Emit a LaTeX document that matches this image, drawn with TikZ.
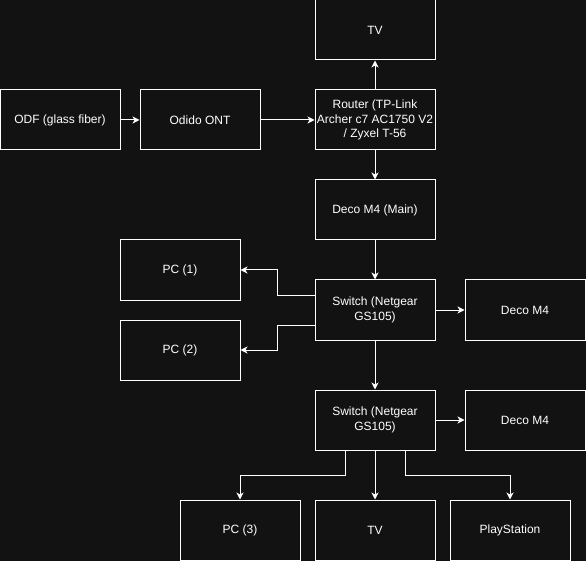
\documentclass[tikz,border=0pt]{standalone}
\usepackage{fontspec}
\usepackage{tikz}
\usepackage{xcolor}
\usetikzlibrary{arrows.meta}
\setmainfont{Liberation Sans}
\definecolor{bgdark}{HTML}{121212}
\tikzset{
    net-box/.style = {draw=white, fill=bgdark, text=white, line width=1pt, rectangle, minimum width=120pt, minimum height=60pt, align=center, inner sep=0pt, font=\fontsize{12}{14.4}\selectfont},
    net-link/.style = {draw=white, line width=1pt, -{Stealth[length=7pt, width=7pt, inset=2pt]}},
}

\begin{document}
\begin{tikzpicture}[x=1pt, y=-1pt]
\fill[bgdark] (0,0) rectangle (586,561);
\useasboundingbox (0,0) rectangle (586,561);
\node [net-box] (tvtop) at (375,30) {TV};
\node [net-box] (odf) at (60,120) {ODF (glass fiber)};
\node [net-box] (ont) at (200,120) {Odido ONT};
\node [net-box] (router) at (375,120) {Router (TP-Link\\Archer c7 AC1750 V2\\/ Zyxel T-56};
\node [net-box] (decomain) at (375,210) {Deco M4 (Main)};
\node [net-box] (pcone) at (180,270) {PC (1)};
\node [net-box] (switchone) at (375,310) {Switch (Netgear\\GS105)};
\node [net-box] (decoone) at (525,310) {Deco M4};
\node [net-box] (pctwo) at (180,350) {PC (2)};
\node [net-box] (switchtwo) at (375,420) {Switch (Netgear\\GS105)};
\node [net-box] (decotwo) at (525,420) {Deco M4};
\node [net-box] (pcthree) at (240,530) {PC (3)};
\node [net-box] (tvbottom) at (375,530) {TV};
\node [net-box] (playstation) at (510,530) {PlayStation};

\draw [net-link] (odf) -- (ont);
\draw [net-link] (ont) -- (router);
\draw [net-link] (router) -- (tvtop);
\draw [net-link] (router) -- (decomain);
\draw [net-link] (decomain) -- (switchone);
\draw [net-link] ([yshift=15pt]switchone.west) -- ++(-37,0) |- (pcone.east);
\draw [net-link] ([yshift=-15pt]switchone.west) -- ++(-37,0) |- (pctwo.east);
\draw [net-link] (switchone) -- (decoone);
\draw [net-link] (switchone) -- (switchtwo);
\draw [net-link] (switchtwo) -- (decotwo);
\draw [net-link] ([xshift=-30pt]switchtwo.south) -- ++(0,25) -| (pcthree.north);
\draw [net-link] (switchtwo) -- (tvbottom);
\draw [net-link] ([xshift=30pt]switchtwo.south) -- ++(0,25) -| (playstation.north);
\end{tikzpicture}
\end{document}
